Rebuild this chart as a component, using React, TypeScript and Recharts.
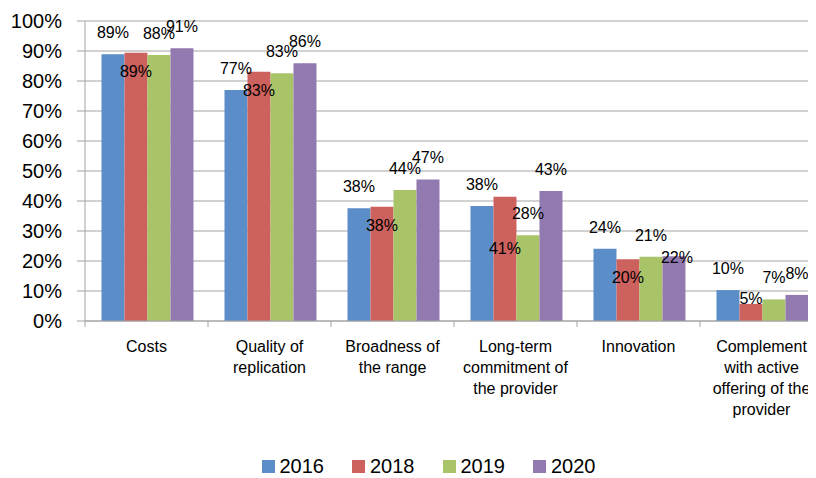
import React from 'react';
import { BarChart, Bar, XAxis, YAxis, CartesianGrid, Legend, LabelList } from 'recharts';

// categories (line breaks as in the original wrapping)
const categories = [
  'Costs',
  'Quality of\nreplication',
  'Broadness of\nthe range',
  'Long-term\ncommitment of\nthe provider',
  'Innovation',
  'Complement\nwith active\noffering of the\nprovider',
];

const years = ['2016', '2018', '2019', '2020'];

// bar heights (%)
const values2016 = [88.9, 77, 37.6, 38.3, 24.1, 10.3];
const values2018 = [89.4, 83.1, 38.1, 41.4, 20.6, 5.7];
const values2019 = [88.7, 82.6, 43.7, 28.6, 21.4, 7.2];
const values2020 = [90.9, 85.9, 47.2, 43.3, 21.6, 8.7];

// data labels as printed
const labels2016 = ['89%', '77%', '38%', '38%', '24%', '10%'];
const labels2018 = ['89%', '83%', '38%', '41%', '20%', '5%'];
const labels2019 = ['88%', '83%', '44%', '28%', '21%', '7%'];
const labels2020 = ['91%', '86%', '47%', '43%', '22%', '8%'];

const yTicks = [0, 10, 20, 30, 40, 50, 60, 70, 80, 90, 100];

const colors = ['#5B8DC8', '#CD615D', '#A9C468', '#9279B0'];
const FONT = '"Liberation Sans", Arial, sans-serif';
const GRID = '#A3A3A3';

const data = categories.map((name, i) => ({
  name,
  y2016: values2016[i],
  y2018: values2018[i],
  y2019: values2019[i],
  y2020: values2020[i],
}));

const valueSets = [values2016, values2018, values2019, values2020];
const labelSets = [labels2016, labels2018, labels2019, labels2020];

const CHART_W = 830;
const CHART_H = 470;
const MARGIN = { top: 13, right: 15, left: 0, bottom: 0 };
const Y_W = 77;
const X_H = 133;
const LEGEND_H = 24;
const PLOT_H = CHART_H - MARGIN.top - X_H - LEGEND_H;
const PX = PLOT_H / 100;
const BAND = (CHART_W - Y_W - MARGIN.left - MARGIN.right) / categories.length;

const CategoryTick = (props: any) => {
  const { x, y, payload } = props;
  const lines = String(payload.value).split('\n');
  return (
    <g>
      <line x1={x - BAND / 2} x2={x - BAND / 2} y1={y} y2={y + 6} stroke={GRID} />
      <text x={x} y={y + 31} textAnchor="middle" fontSize={16} fontFamily={FONT} fill="#000">
        {lines.map((l, i) => (
          <tspan key={i} x={x} dy={i === 0 ? 0 : 21}>
            {l}
          </tspan>
        ))}
      </text>
    </g>
  );
};

// label centre relative to bar top (px, positive = downwards)
const ABOVE = -22;
const INSIDE = 18;

// red labels sit inside the bar top, the others above it;
// a label that lands right on its neighbour's label is pushed down
const makeLabel = (series: number) => (props: any) => {
  const { x, y, width, height, index } = props;
  const text = labelSets[series][index];
  let cy = y + ABOVE;
  let dx = 0;
  if (series === 1) {
    if (height < INSIDE + 10) {
      cy = y - 6;
    } else {
      cy = y + INSIDE;
      const greenLabel = y + (valueSets[1][index] - valueSets[2][index]) * PX + ABOVE;
      if (Math.abs(greenLabel - cy) < 3) cy += 33;
    }
  } else if (series === 3) {
    const greenLabel = y + (valueSets[3][index] - valueSets[2][index]) * PX + ABOVE;
    if (Math.abs(greenLabel - cy) < 3) {
      cy = y + 1;
      dx = 3;
    }
  }
  return (
    <text
      x={x + width / 2 + dx}
      y={cy + 6}
      textAnchor="middle"
      fontSize={16}
      fontFamily={FONT}
      fill="#000"
    >
      {text}
    </text>
  );
};

const LegendContent = () => (
  <div
    style={{
      display: 'flex',
      justifyContent: 'center',
      alignItems: 'center',
      height: LEGEND_H,
      paddingLeft: 26,
      fontFamily: FONT,
      fontSize: 20,
    }}
  >
    {years.map((yr, i) => (
      <div key={yr} style={{ display: 'flex', alignItems: 'center', marginRight: i < years.length - 1 ? 28 : 0 }}>
        <span style={{ display: 'inline-block', width: 13, height: 13, background: colors[i], marginRight: 5 }} />
        <span>{yr}</span>
      </div>
    ))}
  </div>
);

const App: React.FC = () => {
  const keys = ['y2016', 'y2018', 'y2019', 'y2020'];
  return (
    <div style={{ width: 808, height: CHART_H, overflow: 'hidden' }}>
      <BarChart
        width={CHART_W}
        height={CHART_H}
        data={data}
        margin={MARGIN}
        barGap={0}
        barCategoryGap="13.4%"
      >
        <CartesianGrid vertical={false} stroke={GRID} />
        <YAxis
          width={Y_W}
          domain={[0, 100]}
          ticks={yTicks}
          interval={0}
          tickFormatter={(v) => `${v}%`}
          tickSize={8}
          tickMargin={15}
          axisLine={{ stroke: GRID }}
          tickLine={{ stroke: GRID }}
          tick={{ fontSize: 20, fontFamily: FONT, fill: '#000' }}
        />
        <XAxis
          dataKey="name"
          interval={0}
          height={X_H}
          tickSize={0}
          tickMargin={0}
          tickLine={false}
          axisLine={{ stroke: GRID }}
          tick={<CategoryTick />}
        />
        <Legend verticalAlign="bottom" height={LEGEND_H} content={<LegendContent />} />
        {keys.map((k, i) => (
          <Bar key={k} dataKey={k} name={years[i]} fill={colors[i]} isAnimationActive={false}>
            <LabelList dataKey={k} content={makeLabel(i)} />
          </Bar>
        ))}
      </BarChart>
    </div>
  );
};

export default App;
